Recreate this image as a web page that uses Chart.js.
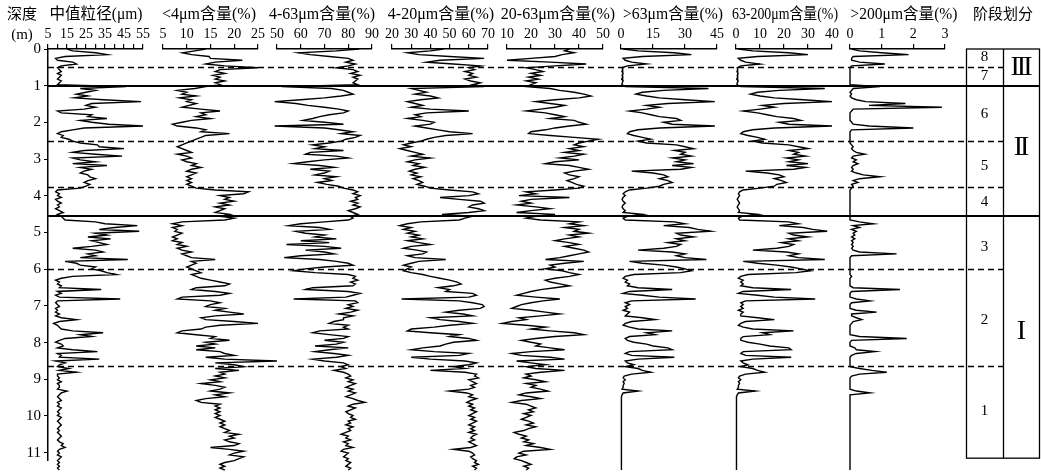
<!DOCTYPE html>
<html>
<head>
<meta charset="utf-8">
<script src="https://cdn.jsdelivr.net/npm/chart.js@4.4.1/dist/chart.umd.min.js"></script>
<style>
  body { margin: 0; background: #fff; overflow: hidden; }
  #wrap { position: relative; width: 1041px; height: 472px; }
  #wrap canvas { position: absolute; top: 0; }
</style>
</head>
<body>
<div id="wrap"></div>
<script>
// depth grid, m (one sample every 5 cm)
const depth = Array.from({ length: 225 }, (_, i) => Math.round(i * 5) / 100);

// median grain size, um
const medianSize = [
  15, 18, 30, 36, 14, 9, 10, 18, 20, 12, 10, 11, 12, 10, 12, 11, 10, 12, 11, 10,
  46, 22, 30, 25, 20, 26, 19, 34, 54, 28, 25, 30, 24, 10, 12, 28, 26, 36, 22, 28,
  37, 55, 24, 18, 12, 10, 13, 12, 16, 18, 22, 31, 32, 45, 24, 18, 30, 44, 18, 22,
  30, 18, 36, 22, 28, 24, 22, 26, 27, 30, 26, 24, 27, 25, 22, 10, 9, 11, 10, 12,
  9, 10, 12, 10, 11, 9, 11, 13, 10, 12, 13, 14, 30, 35, 52, 40, 32, 53, 30, 36,
  26, 38, 28, 32, 36, 28, 18, 30, 34, 26, 30, 22, 47, 14, 20, 22, 30, 28, 33, 36,
  41, 18, 12, 9, 11, 10, 12, 11, 33, 10, 12, 9, 11, 43, 10, 9, 10, 11, 9, 10,
  9, 11, 9, 12, 20, 11, 8, 10, 11, 12, 18, 34, 22, 28, 14, 11, 9, 12, 13, 10,
  18, 31, 10, 12, 11, 32, 9, 14, 11, 10, 16, 11, 20, 10, 10, 11, 10, 12, 10, 11,
  11, 10, 15, 12, 11, 10, 11, 12, 10, 11, 10, 12, 11, 10, 11, 10, 12, 11, 10, 11,
  12, 11, 10, 11, 10, 11, 12, 11, 10, 11, 13, 12, 14, 11, 10, 11, 10, 12, 11, 10,
  11, 10, 11, 10, 11
];

// <4 um content, %
const clayPct = [
  14, 11.7, 9.1, 11, 14.7, 15, 21.7, 16, 14, 18, 25, 17, 16, 18, 15.5, 17, 16, 18, 16, 17,
  14, 11.7, 8, 10, 9, 12, 8.5, 11, 10, 12, 10.5, 9, 13, 17, 13, 14, 12, 15, 11, 9,
  7, 8, 12, 14, 13, 19, 14, 13, 12, 11, 10, 9, 8, 9, 10, 11, 8, 10, 11, 9,
  10, 12, 11, 13, 11, 10, 12, 11, 10, 11, 10, 11, 10, 11, 12, 16, 23, 22, 17, 19,
  18, 20, 17, 19, 16, 18, 17, 16, 19, 17, 20, 18, 9, 7, 9, 7, 8, 7.5, 9, 8,
  7, 8, 7, 9, 8, 10, 8, 9, 11, 9, 10, 11, 16, 11, 12, 11, 10, 11, 12, 13,
  11, 12, 13, 15, 17, 19, 18, 12, 11, 16, 19, 17, 9, 8, 15, 17, 15, 14, 18, 16,
  19, 22, 16, 13, 14, 20, 25, 17, 14, 13, 9, 8, 12, 16, 15, 19, 14, 16, 12, 16,
  12, 17, 18, 20, 14, 18, 29, 16, 20, 22, 16, 21, 17, 18, 16, 18, 15, 17, 13, 16,
  18, 17, 15, 19, 16, 18, 14, 12, 13, 17, 16, 17, 16, 17, 16, 17, 16, 17, 18, 17,
  18, 17, 18, 19, 18, 21, 19, 20, 18, 19, 21, 20, 15, 19, 22, 20, 19, 22, 21, 20,
  18, 17, 18, 17, 18
];

// 4-63 um content, %
const silt4to63 = [
  84.6, 75, 59, 64, 72, 80, 82, 79, 83, 80, 75, 82, 84, 81, 85, 82, 84, 83, 82, 84,
  52, 73, 78, 80, 82, 77, 70, 60, 49, 58, 63, 70, 76, 80, 78, 72, 68, 65, 61, 70,
  78, 49, 70, 76, 82, 77, 85, 83, 79, 77, 72, 65, 70, 66, 78, 64, 62, 75, 80, 70,
  63, 57, 68, 74, 64, 72, 70, 66, 75, 70, 73, 67, 71, 76, 78, 82, 84, 82, 85, 83,
  84, 81, 84, 82, 85, 83, 80, 82, 84, 81, 82, 80, 70, 60, 55, 68, 72, 58, 62, 70,
  66, 75, 60, 72, 54, 70, 77, 62, 70, 74, 60, 53, 68, 75, 80, 82, 70, 62, 57, 66,
  80, 83, 82, 84, 81, 83, 82, 65, 62, 80, 85, 82, 79, 57, 83, 84, 80, 82, 79, 84,
  81, 76, 82, 78, 78, 74, 72, 80, 78, 80, 68, 65, 72, 80, 78, 70, 78, 75, 66, 80,
  72, 66, 74, 80, 75, 65, 70, 78, 80, 77, 79, 74, 78, 80, 81, 79, 82, 80, 83, 81,
  79, 82, 80, 83, 81, 79, 82, 84, 87, 82, 80, 83, 81, 79, 80, 82, 81, 83, 80, 81,
  79, 82, 80, 81, 79, 77, 80, 79, 81, 78, 80, 79, 82, 78, 77, 80, 79, 78, 80, 79,
  81, 80, 79, 81, 80
];

// 4-20 um content, %
const silt4to20 = [
  46.7, 40, 28, 34, 50, 68, 45, 38, 52, 66, 60, 63, 58, 62, 60, 64, 58, 61, 66, 62,
  68, 30, 34, 38, 32, 40, 44, 35, 28, 32, 36, 30, 40, 60, 38, 32, 35, 28, 36, 42,
  40, 32, 38, 44, 50, 62, 48, 42, 38, 35, 30, 26, 30, 24, 28, 32, 36, 30, 40, 32,
  28, 34, 31, 37, 32, 29, 33, 30, 35, 31, 34, 36, 33, 37, 40, 50, 62, 65, 60, 45,
  55, 66, 68, 62, 60, 65, 68, 60, 46, 62, 58, 55, 35, 28, 24, 30, 26, 32, 28, 34,
  30, 36, 28, 34, 40, 30, 26, 33, 38, 36, 28, 32, 48, 34, 30, 26, 30, 28, 26, 30,
  36, 40, 45, 50, 54, 56, 52, 44, 50, 48, 62, 64, 60, 25, 55, 62, 67, 68, 66, 55,
  48, 57, 62, 40, 45, 55, 62, 50, 42, 30, 28, 40, 55, 50, 60, 64, 52, 48, 45, 36,
  30, 42, 60, 55, 30, 40, 58, 64, 60, 52, 58, 40, 58, 64, 63, 65, 60, 62, 64, 61,
  63, 60, 50, 59, 62, 60, 64, 61, 59, 62, 60, 63, 61, 64, 62, 60, 63, 61, 64, 62,
  60, 63, 61, 63, 60, 64, 62, 61, 63, 60, 62, 64, 61, 52, 60, 62, 63, 61, 62, 64,
  63, 65, 62, 64, 63
];

// 20-63 um content, %
const silt20to63 = [
  36, 34, 38, 33, 30, 20, 10, 28, 43, 30, 18, 22, 25, 20, 24, 19, 23, 18, 22, 20,
  18, 28, 32, 38, 42, 45, 40, 30, 22, 28, 34, 30, 24, 18, 26, 30, 34, 28, 38, 40,
  43, 36, 30, 26, 20, 19, 28, 38, 48, 44, 40, 38, 42, 36, 40, 34, 42, 38, 32, 40,
  30, 26, 36, 40, 44, 38, 34, 36, 40, 38, 35, 37, 39, 42, 40, 30, 18, 22, 15, 36,
  20, 16, 20, 14, 22, 28, 20, 14, 30, 22, 18, 24, 40, 36, 42, 34, 40, 38, 44, 36,
  40, 34, 30, 36, 40, 34, 38, 42, 44, 40, 36, 32, 26, 42, 34, 28, 30, 26, 33, 36,
  40, 36, 30, 26, 28, 32, 36, 30, 24, 20, 17, 14, 22, 32, 25, 20, 16, 14, 12, 20,
  26, 32, 24, 15, 18, 12, 8, 18, 26, 20, 28, 38, 42, 30, 22, 16, 20, 24, 22, 28,
  34, 20, 12, 16, 28, 34, 14, 20, 26, 18, 22, 34, 24, 18, 20, 17, 22, 26, 18, 22,
  20, 24, 27, 18, 15, 20, 24, 16, 12, 18, 20, 22, 19, 21, 17, 20, 18, 16, 19, 21,
  18, 22, 19, 17, 13, 15, 18, 16, 19, 17, 21, 18, 24, 28, 17, 15, 18, 14, 13, 16,
  18, 20, 17, 19, 18
];

// >63 um content, %
const sandPct = [
  1, 8, 25, 33, 10, 1, 2, 5, 12, 3, 0.5, 0.8, 0.4, 1, 0.5, 0.8, 0.3, 1, 0.6, 0.4,
  2, 41, 20, 10, 7, 12, 18, 30, 44, 22, 12, 18, 12, 4, 10, 14, 18, 26, 28, 20,
  24, 44, 18, 8, 4, 3, 6, 10, 14, 8, 12, 26, 30, 34, 25, 30, 28, 33, 24, 30,
  26, 34, 24, 33, 28, 5, 15, 20, 22, 18, 22, 24, 20, 18, 12, 4, 2, 1, 2, 1,
  0.5, 1, 2, 1, 0.5, 1, 2, 1, 10, 3, 1, 2, 25, 30, 20, 32, 36, 42, 26, 28,
  34, 26, 30, 22, 28, 26, 20, 8, 24, 30, 26, 30, 40, 4, 10, 20, 26, 30, 33, 28,
  6, 2, 1, 3, 2, 4, 3, 8, 24, 4, 1, 10, 18, 35, 5, 2, 4, 2, 3, 1,
  4, 3, 2, 10, 16, 5, 2, 1, 4, 8, 24, 12, 16, 4, 2, 3, 6, 12, 15, 22,
  24, 4, 2, 5, 25, 8, 2, 3, 6, 2, 8, 10, 14, 5, 1.5, 1, 2, 1, 1.5, 1,
  1, 0.5, 8, 1, 0.5, 0.2, 0.2, 0.2, 0.2, 0.2, 0.2, 0.2, 0.2, 0.2, 0.2, 0.2, 0.2, 0.2, 0.2, 0.2,
  0.2, 0.2, 0.2, 0.2, 0.2, 0.2, 0.2, 0.2, 0.2, 0.2, 0.2, 0.2, 0.2, 0.2, 0.2, 0.2, 0.2, 0.2, 0.2, 0.2,
  0.2, 0.2, 0.2, 0.2, 0.2
];

// 63-200 um content, %
const sand63to200 = [
  1, 7, 22, 30, 9, 1, 2, 4, 10, 2, 0.5, 0.7, 0.4, 0.9, 0.5, 0.7, 0.3, 0.9, 0.5, 0.4,
  2, 37, 18, 9, 6, 10, 16, 28, 40, 20, 11, 16, 10, 3, 9, 13, 17, 24, 27, 18,
  22, 40, 16, 7, 3, 2, 5, 9, 12, 7, 11, 22, 26, 30, 22, 26, 24, 29, 21, 26,
  22, 30, 21, 29, 24, 4, 13, 18, 20, 16, 19, 21, 17, 16, 10, 3, 1.5, 1, 1.5, 1,
  0.5, 1, 1.5, 1, 0.5, 1, 1.5, 1, 9, 2.5, 1, 1.5, 22, 26, 18, 28, 32, 38, 22, 24,
  30, 22, 26, 19, 24, 22, 17, 7, 21, 26, 22, 26, 37, 3, 9, 17, 23, 27, 31, 25,
  5, 2, 1, 3, 2, 3, 2, 7, 23, 3, 1, 9, 16, 33, 4, 2, 3, 2, 3, 1,
  3, 2, 2, 9, 16, 4, 2, 1, 3, 7, 24, 11, 14, 3, 2, 2, 5, 10, 14, 22,
  23, 3, 2, 4, 23, 7, 2, 3, 5, 2, 7, 9, 12, 4, 1.5, 1, 2, 1, 1.5, 1,
  1, 0.5, 8, 1, 0.5, 0.2, 0.2, 0.2, 0.2, 0.2, 0.2, 0.2, 0.2, 0.2, 0.2, 0.2, 0.2, 0.2, 0.2, 0.2,
  0.2, 0.2, 0.2, 0.2, 0.2, 0.2, 0.2, 0.2, 0.2, 0.2, 0.2, 0.2, 0.2, 0.2, 0.2, 0.2, 0.2, 0.2, 0.2, 0.2,
  0.2, 0.2, 0.2, 0.2, 0.2
];

// >200 um content, %
const sand200 = [
  0.05, 0.3, 1.0, 1.85, 0.1, 0.05, 0.05, 0.3, 1.1, 0.05, 0, 0, 0, 0, 0, 0, 0, 0, 0, 0,
  0.95, 0.1, 0.05, 0, 0.05, 0, 0.05, 0.2, 0.5, 1.75, 0.6, 2.9, 0.1, 0.05, 0, 0, 0, 0, 0, 0.05,
  0.1, 0.6, 2.0, 0.05, 0, 0, 0, 0, 0, 0, 0, 0.05, 0.1, 0.05, 0.1, 0.2, 0.47, 0.1, 0.05, 0.2,
  0.1, 0.25, 0.1, 0.05, 0.1, 0.05, 0.2, 0.42, 0.95, 0.3, 0.1, 0.25, 0.05, 0.1, 0.05, 0, 0, 0, 0, 0,
  0, 0, 0, 0, 0, 0, 0, 0, 0, 0, 0, 0, 0.3, 0.74, 0.1, 0.3, 0.05, 0.2, 0.1, 0.15,
  0.05, 0.15, 0.05, 0.1, 0.05, 0.1, 0.05, 0.1, 0.3, 1.47, 0.05, 0, 0, 0, 0, 0, 0, 0, 0, 0,
  0, 0.05, 0, 0, 0, 0, 0, 0.1, 1.58, 0.05, 0, 0, 0, 0.2, 0.63, 0.05, 0, 0, 0, 0.2,
  0.84, 0.05, 0.05, 0.2, 0.37, 0.1, 0.05, 0, 0, 0, 0, 0, 0, 0.3, 1.79, 0.05, 0, 0, 0, 0.15,
  0.2, 0.79, 0.2, 0.05, 0, 0, 0, 0, 0, 0, 0.3, 0.69, 1.16, 0.3, 0.05, 0, 0, 0, 0, 0,
  0, 0, 0.2, 0.63, 0, 0, 0, 0, 0, 0, 0, 0, 0, 0, 0, 0, 0, 0, 0, 0,
  0, 0, 0, 0, 0, 0, 0, 0, 0, 0, 0, 0, 0, 0, 0, 0, 0, 0, 0, 0,
  0, 0, 0, 0, 0
];

// stage boundaries and labels (depth, m)
const solidBounds = [1.0, 4.55];
const dashedBounds = [0.5, 2.5, 3.75, 6.0, 8.65];
const subStageLabels = ['8', '7', '6', '5', '4', '3', '2', '1'];
const subStageDepths = [0.21, 0.74, 1.78, 3.19, 4.18, 5.4, 7.4, 9.87];
const stageLabels = ['III', 'II', 'I'];
const stageDepths = [0.5, 2.69, 7.69];

const FONT = "'Liberation Serif', 'Noto Sans CJK SC', serif";
const H = 472;
const wrap = document.getElementById('wrap');

// panel layout: axis pixel span, header centre and header width
const panels = [
  { title: '中值粒径(μm)', values: medianSize, min: 5, max: 55, step: 5, left: 48, width: 95, every: 10, tx: 96, tw: 93 },
  { title: '<4μm含量(%)', values: clayPct, min: 5, max: 25, step: 5, left: 163, width: 95, tx: 209, tw: 95 },
  { title: '4-63μm含量(%)', values: silt4to63, min: 50, max: 90, step: 10, left: 277, width: 95, tx: 322, tw: 106 },
  { title: '4-20μm含量(%)', values: silt4to20, min: 20, max: 70, step: 10, left: 392, width: 96, tx: 441, tw: 108 },
  { title: '20-63μm含量(%)', values: silt20to63, min: 10, max: 50, step: 10, left: 507, width: 96, tx: 558, tw: 116 },
  { title: '>63μm含量(%)', values: sandPct, min: 0, max: 45, step: 15, left: 621, width: 96, tx: 673, tw: 100 },
  { title: '63-200μm含量(%)', values: sand63to200, min: 0, max: 40, step: 10, left: 736, width: 96, tx: 785, tw: 106 },
  { title: '>200μm含量(%)', values: sand200, min: 0, max: 3, step: 1, left: 850, width: 95, tx: 904, tw: 107 }
];

function addCanvas(left, width) {
  const c = document.createElement('canvas');
  c.width = width;
  c.height = H;
  c.style.left = left + 'px';
  c.style.width = width + 'px';
  c.style.height = H + 'px';
  wrap.appendChild(c);
  return c;
}

// boundary lines, stage column and header texts
const stagePlugin = {
  id: 'stages',
  afterDraw(chart) {
    const { ctx, chartArea, scales: { y } } = chart;
    const boxL = 966, boxM = 1003, boxR = 1039;
    const seg = (x1, y1, x2, y2) => { ctx.beginPath(); ctx.moveTo(x1, y1); ctx.lineTo(x2, y2); ctx.stroke(); };
    ctx.save();
    ctx.strokeStyle = '#000';
    ctx.fillStyle = '#000';

    ctx.lineWidth = 1.4;
    ctx.setLineDash([6, 4]);
    dashedBounds.forEach(d => { const py = Math.round(y.getPixelForValue(d)) + 0.5; seg(chartArea.left, py, boxM, py); });
    ctx.setLineDash([]);

    ctx.lineWidth = 2;
    solidBounds.forEach(d => { const py = Math.round(y.getPixelForValue(d)); seg(chartArea.left, py, boxR, py); });

    const top = y.getPixelForValue(0), bot = y.getPixelForValue(11.15);
    ctx.lineWidth = 1.3;
    ctx.strokeRect(boxL + 0.5, top, boxR - boxL, bot - top);
    seg(boxM + 0.5, top, boxM + 0.5, bot);

    ctx.textAlign = 'center';
    ctx.textBaseline = 'middle';
    ctx.font = '15px ' + FONT;
    subStageLabels.forEach((t, i) => ctx.fillText(t, (boxL + boxM) / 2, y.getPixelForValue(subStageDepths[i])));
    ctx.font = '28px ' + FONT;
    ctx.letterSpacing = '-3px';
    stageLabels.forEach((t, i) => ctx.fillText(t, (boxM + boxR) / 2 - 1, y.getPixelForValue(stageDepths[i])));
    ctx.letterSpacing = '0px';

    ctx.font = '15px ' + FONT;
    ctx.fillText('深度', 22, 15);
    ctx.fillText('(m)', 22, 35);
    ctx.fillText('阶段划分', 1003, 15);
    ctx.font = '16px ' + FONT;
    panels.forEach(p => ctx.fillText(p.title, p.tx, 15, p.tw));
    ctx.restore();
  }
};

// frame chart: depth axis, boundaries, stage column
new Chart(addCanvas(0, 1041), {
  type: 'line',
  data: { datasets: [] },
  options: {
    responsive: false,
    animation: false,
    events: [],
    layout: { padding: { top: 49, bottom: 2, left: 0, right: 2 } },
    plugins: { legend: { display: false }, tooltip: { enabled: false } },
    scales: {
      x: { type: 'linear', display: false, min: 0, max: 1 },
      y: {
        type: 'linear', reverse: true, min: 0, max: 11.2,
        afterFit: s => { s.width = 48; },
        ticks: { stepSize: 1, includeBounds: false, padding: 3, color: '#000', font: { family: FONT, size: 15 } },
        grid: { drawOnChartArea: false, tickLength: 4, color: '#000', lineWidth: 1 },
        border: { color: '#000', width: 1.5 }
      }
    }
  },
  plugins: [stagePlugin]
});

const PAD = 26;
panels.forEach(p => {
  new Chart(addCanvas(p.left - PAD, p.width + 2 * PAD), {
    type: 'line',
    data: {
      datasets: [{
        data: p.values.map((v, i) => ({ x: v, y: depth[i] })),
        borderColor: '#000',
        borderWidth: 1.4,
        pointRadius: 0,
        tension: 0,
        fill: false,
        clip: false
      }]
    },
    options: {
      indexAxis: 'y',
      responsive: false,
      animation: false,
      events: [],
      layout: { padding: { left: PAD, right: PAD, top: 0, bottom: 2 } },
      plugins: { legend: { display: false }, tooltip: { enabled: false } },
      scales: {
        x: {
          type: 'linear', position: 'top', min: p.min, max: p.max,
          afterFit: s => { s.height = 49; },
          ticks: {
            stepSize: p.step, autoSkip: false, maxRotation: 0, padding: 1, color: '#000',
            font: { family: FONT, size: 14 },
            callback: v => {
              const r = Math.round(v * 100) / 100;
              if (p.every && Math.round(r - p.min) % p.every !== 0) return '';
              return String(r);
            }
          },
          grid: { drawOnChartArea: false, tickLength: 5, color: '#000', lineWidth: 1.2 },
          border: { color: '#000', width: 1.5 }
        },
        y: { type: 'linear', reverse: true, min: 0, max: 11.2, display: false }
      }
    }
  });
});
</script>
</body>
</html>
